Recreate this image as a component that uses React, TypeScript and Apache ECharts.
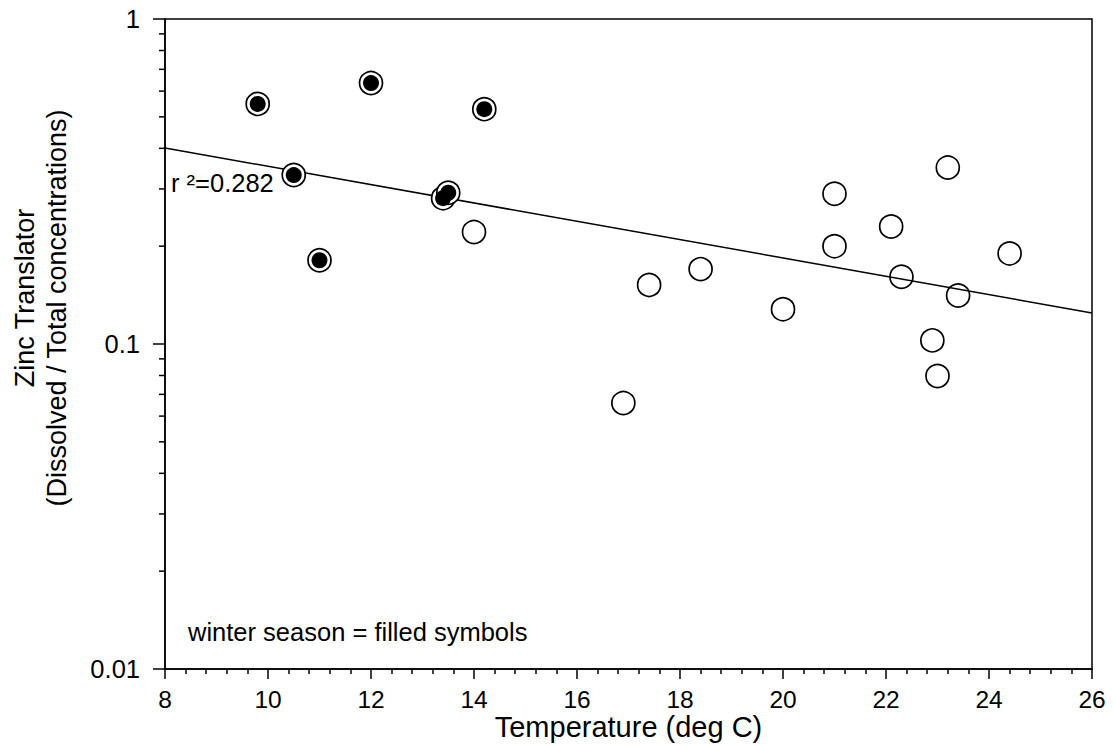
import { useEffect, useRef } from "react";
import * as echarts from "echarts";

// Winter samples (filled symbols)
const winterTemp = [9.8, 12.0, 14.2, 10.5, 13.4, 13.5, 11.0];
const winterRatio = [0.548, 0.635, 0.528, 0.331, 0.281, 0.292, 0.181];

// Other seasons (open symbols)
const otherTemp = [14.0, 16.9, 17.4, 18.4, 20.0, 21.0, 21.0, 22.1, 22.3, 22.9, 23.0, 23.2, 23.4, 24.4];
const otherRatio = [0.221, 0.0658, 0.152, 0.17, 0.128, 0.29, 0.2, 0.23, 0.161, 0.1026, 0.0797, 0.349, 0.141, 0.19];

// Log-linear regression line end points
const fitTemp = [8, 26];
const fitRatio = [0.401, 0.1246];
const rSquaredText = "r \u00b2=0.282";

// Minor tick values on the logarithmic axis
const yMinorTicks = [0.02, 0.03, 0.04, 0.05, 0.06, 0.07, 0.08, 0.09, 0.2, 0.3, 0.4, 0.5, 0.6, 0.7, 0.8, 0.9];
const yTickLabels = ["0.01", "0.1", "1"];

const FONT = "'Liberation Sans', Arial, Helvetica, sans-serif";

export default function App() {
  const ref = useRef<HTMLDivElement>(null);

  useEffect(() => {
    if (!ref.current) return;
    const chart = echarts.init(ref.current, undefined, { renderer: "svg" });

    const pair = (xs: number[], ys: number[]) => xs.map((x, i) => [x, ys[i]]);

    chart.setOption({
      animation: false,
      backgroundColor: "#fff",
      textStyle: { fontFamily: FONT, color: "#000" },
      grid: {
        left: 165,
        right: 21,
        top: 19,
        bottom: 77,
        containLabel: false,
        outerBoundsMode: "none",
        show: true,
        borderColor: "#000",
        borderWidth: 1.5,
        backgroundColor: "transparent",
      },
      xAxis: {
        type: "value",
        min: 8,
        max: 26,
        interval: 2,
        axisLine: { show: true, lineStyle: { color: "#000", width: 1.5 } },
        axisTick: { show: true, length: 10, lineStyle: { color: "#000", width: 1.5 } },
        minorTick: { show: true, splitNumber: 5, length: 5, lineStyle: { color: "#000", width: 1.5 } },
        splitLine: { show: false },
        minorSplitLine: { show: false },
        axisLabel: { fontSize: 24.5, lineHeight: 24.5, color: "#000", margin: 18, fontFamily: FONT },
      },
      yAxis: {
        type: "log",
        logBase: 10,
        min: 0.01,
        max: 1,
        interval: 1,
        axisLine: { show: true, lineStyle: { color: "#000", width: 1.5 } },
        axisTick: { show: true, length: 12, lineStyle: { color: "#000", width: 1.5 } },
        splitLine: { show: false },
        axisLabel: {
          fontSize: 25.5,
          color: "#000",
          margin: 25,
          fontFamily: FONT,
          formatter: (v: number) => {
            const e = Math.round(Math.log10(v));
            return yTickLabels[e + 2] ?? String(v);
          },
        },
      },
      graphic: [
        {
          type: "text",
          left: 171,
          top: 170,
          style: { text: rSquaredText, fontSize: 25.5, fontFamily: FONT, fill: "#000" },
          z: 10,
        },
        {
          type: "text",
          left: 188,
          top: 619,
          style: { text: "winter season = filled symbols", fontSize: 25.5, fontFamily: FONT, fill: "#000" },
          z: 10,
        },
        {
          type: "text",
          x: 628.5,
          y: 727,
          style: {
            text: "Temperature (deg C)",
            fontSize: 29,
            lineHeight: 29,
            fontFamily: FONT,
            fill: "#000",
            align: "center",
            verticalAlign: "middle",
          },
        },
        {
          type: "text",
          x: 25,
          y: 298,
          rotation: Math.PI / 2,
          style: {
            text: "Zinc Translator",
            fontSize: 27,
            fontFamily: FONT,
            fill: "#000",
            align: "center",
            verticalAlign: "middle",
          },
        },
        {
          type: "text",
          x: 57,
          y: 308,
          rotation: Math.PI / 2,
          style: {
            text: "(Dissolved / Total concentrations)",
            fontSize: 27,
            fontFamily: FONT,
            fill: "#000",
            align: "center",
            verticalAlign: "middle",
          },
        },
      ],
      series: [
        {
          name: "minor ticks",
          type: "custom",
          silent: true,
          clip: false,
          z: 5,
          data: yMinorTicks.map((v) => [8, v]),
          renderItem: (_params: any, api: any) => {
            const p = api.coord([api.value(0), api.value(1)]);
            return {
              type: "line",
              shape: { x1: p[0] - 6, y1: p[1], x2: p[0], y2: p[1] },
              style: { stroke: "#000", lineWidth: 1.5 },
            };
          },
        },
        {
          name: "fit",
          type: "line",
          data: pair(fitTemp, fitRatio),
          symbol: "none",
          lineStyle: { color: "#000", width: 1.5 },
          z: 2,
        },
        {
          name: "other seasons",
          type: "scatter",
          data: pair(otherTemp, otherRatio),
          symbol: "circle",
          symbolSize: 23,
          itemStyle: { color: "transparent", borderColor: "#000", borderWidth: 1.7, opacity: 1 },
          z: 3,
        },
        {
          name: "winter ring",
          type: "scatter",
          data: pair(winterTemp, winterRatio),
          symbol: "circle",
          symbolSize: 23,
          itemStyle: { color: "#fff", borderColor: "#000", borderWidth: 1.7, opacity: 1 },
          z: 3,
        },
        {
          name: "winter season",
          type: "scatter",
          data: pair(winterTemp, winterRatio),
          symbol: "circle",
          symbolSize: 16,
          itemStyle: { color: "#000", opacity: 1 },
          z: 4,
        },
      ],
    });

    return () => chart.dispose();
  }, []);

  return (
    <div
      ref={ref}
      style={{ position: "fixed", left: 0, top: 0, width: 1113, height: 746, background: "#fff" }}
    />
  );
}
